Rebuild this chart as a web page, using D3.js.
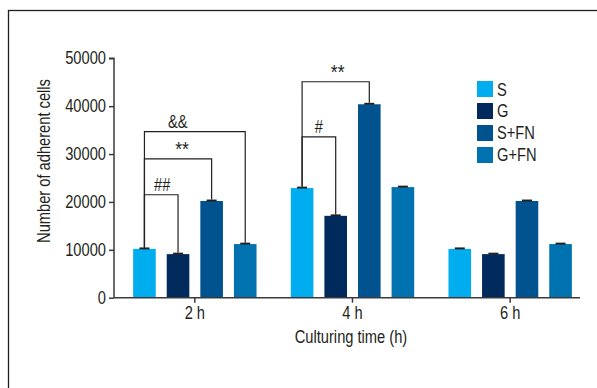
<!DOCTYPE html>
<html><head><meta charset="utf-8">
<script src="https://cdn.jsdelivr.net/npm/d3@7"></script>
<style>body{margin:0;background:#fff}svg{display:block}text{font-family:"Liberation Sans",Arial,sans-serif;fill:#231f20}</style>
</head><body><svg id="c" width="597" height="388"></svg>
<script>
const groups = ["2 h", "4 h", "6 h"];
const series = ["S", "G", "S+FN", "G+FN"];
const colors = ["#00aeef", "#002a5c", "#00538e", "#0072b0"];
const valS   = [10200, 22900, 10200];
const valG   = [9100, 17100, 9100];
const valSFN = [20200, 40400, 20200];
const valGFN = [11200, 23100, 11200];
const errors = [300, 300, 300];
const yTicks = [0, 10000, 20000, 30000, 40000, 50000];
// significance brackets: group, from series, to series, level (data units), label
const brackets = [
  {g: "2 h", from: 0, to: 1, level: 21500, label: "##"},
  {g: "2 h", from: 0, to: 2, level: 29000, label: "**"},
  {g: "2 h", from: 0, to: 3, level: 34700, label: "&&"},
  {g: "4 h", from: 0, to: 2, level: 45100, label: "**"},
  {g: "4 h", from: 0, to: 1, level: 33600, label: "#"}
];
const labelShift = [1, 4, -17, 2, 0];

const values = [valS, valG, valSFN, valGFN];
const svg = d3.select("#c");
const FS = 17.5;

svg.append("rect").attr("x", 8.5).attr("y", 10.5).attr("width", 700).attr("height", 500)
  .attr("fill", "none").attr("stroke", "#231f20").attr("stroke-width", 1.3);

const x0 = d3.scaleBand().domain(groups).range([116, 589]);
const x1 = d3.scaleBand().domain(series).range([0, x0.bandwidth()]).paddingInner(0.327).paddingOuter(0.51);
const y = d3.scaleLinear().domain([0, 50000]).range([297.7, 58.3]);

// bars
series.forEach((s, si) => {
  svg.append("g").selectAll("rect").data(groups).join("rect")
    .attr("x", g => x0(g) + x1(s))
    .attr("y", (g, gi) => y(values[si][gi]))
    .attr("width", x1.bandwidth())
    .attr("height", (g, gi) => y(0) - y(values[si][gi]))
    .attr("fill", colors[si]);
  svg.append("g").selectAll("rect").data(groups).join("rect")
    .attr("x", g => x0(g) + x1(s) + x1.bandwidth() / 2 - 5)
    .attr("y", (g, gi) => y(values[si][gi] + errors[gi]))
    .attr("width", 10)
    .attr("height", (g, gi) => y(values[si][gi]) - y(values[si][gi] + errors[gi]) + 0.5)
    .attr("fill", "#231f20");
});

// axes
const yAxis = svg.append("g").attr("transform", "translate(114,0)")
  .call(d3.axisLeft(y).tickValues(yTicks).tickSize(5).tickPadding(3).tickFormat(d3.format("d")));
yAxis.select(".domain").attr("d", `M-5,${y(50000)}H0V${y(0)}`);

const xAxis = svg.append("g").attr("transform", `translate(0,${y(0)})`)
  .call(d3.axisBottom(x0).tickSize(5).tickPadding(4));
xAxis.select(".domain").attr("d", `M114,0H580`);
[yAxis, xAxis].forEach(a => {
  a.attr("font-family", null).attr("font-size", null);
  a.selectAll("text").attr("font-size", FS);
  a.selectAll("path,line").attr("stroke", "#3a3a3a").attr("stroke-width", 1.5);
});

const ytitle = svg.append("text").attr("transform", "translate(50,161) rotate(-90)")
  .attr("text-anchor", "middle").attr("font-size", FS).text("Number of adherent cells");
svg.append("text").attr("x", 351).attr("y", 343)
  .attr("text-anchor", "middle").attr("font-size", FS).text("Culturing time (h)");

// brackets
brackets.forEach((b, i) => {
  const gi = groups.indexOf(b.g);
  const xa = x0(b.g) + x1(series[b.from]) + x1.bandwidth() / 2;
  const xb = x0(b.g) + x1(series[b.to]) + x1.bandwidth() / 2;
  const ya = y(values[b.from][gi] + errors[gi]);
  const yb = y(values[b.to][gi] + errors[gi]);
  const yl = y(b.level);
  const star = b.label.includes("*");
  svg.append("path").attr("d", `M${xa},${ya}V${yl}H${xb}V${yb}`)
    .attr("fill", "none").attr("stroke", "#231f20").attr("stroke-width", 1.2);
  svg.append("text").attr("x", (xa + xb) / 2 + labelShift[i]).attr("y", yl - (star ? 2.5 : 4))
    .attr("text-anchor", "middle").attr("font-size", star ? 21 : FS).text(b.label);
});

// legend
const lg = svg.append("g").attr("transform", "translate(477,81)");
series.forEach((s, i) => {
  lg.append("rect").attr("x", 0).attr("y", i * 22).attr("width", 16).attr("height", 16).attr("fill", colors[i]);
  lg.append("text").attr("x", 20).attr("y", i * 22 + 14.5).attr("font-size", FS).text(s);
});

// condense all text horizontally to mimic the condensed typeface
const k = 164 / ytitle.node().getComputedTextLength();
svg.selectAll("text").each(function() {
  const t = d3.select(this);
  const tx = +(t.attr("x") || 0);
  const prev = t.attr("transform") || "";
  t.attr("transform", `${prev} translate(${tx},0) scale(${k},1) translate(${-tx},0)`);
});
</script></body></html>
